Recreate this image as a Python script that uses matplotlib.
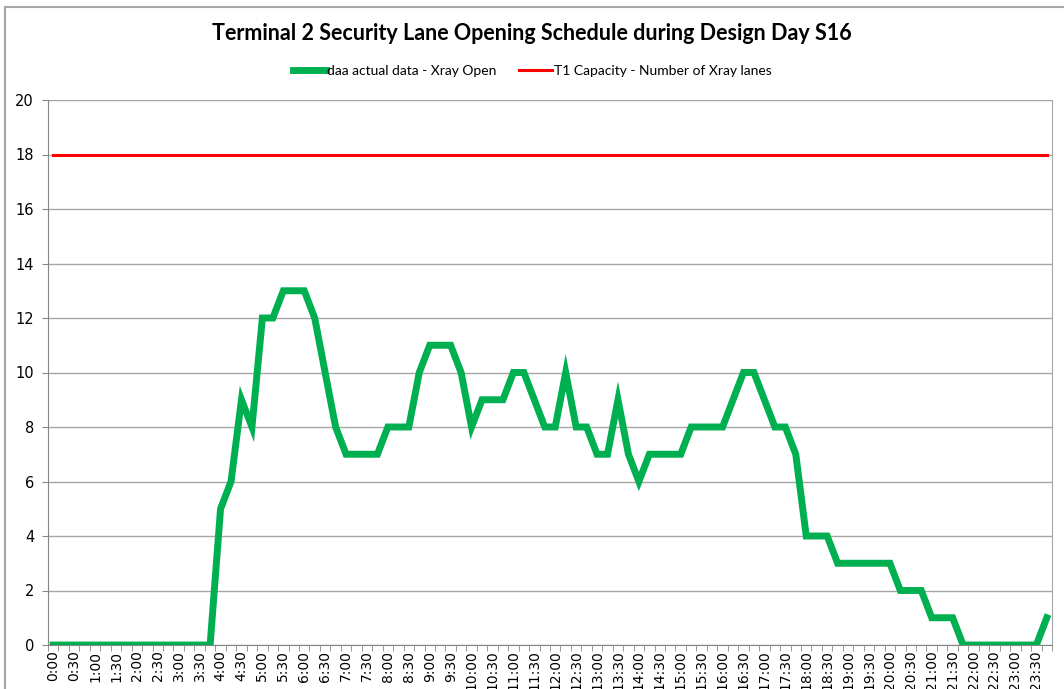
import matplotlib
matplotlib.use('Agg')
import matplotlib.pyplot as plt
from matplotlib.patches import Rectangle

plt.rcParams['font.family'] = ['Lato', 'DejaVu Sans']

# 15 minute slots over the design day
times = [f'{h}:{m:02d}' for h in range(24) for m in (0, 15, 30, 45)]

xray_open = [0, 0, 0, 0, 0, 0, 0, 0, 0, 0, 0, 0, 0, 0, 0, 0,
             5, 6, 9, 8, 12, 12, 13, 13, 13, 12, 10, 8, 7, 7, 7, 7,
             8, 8, 8, 10, 11, 11, 11, 10, 8, 9, 9, 9, 10, 10, 9, 8,
             8, 10, 8, 8, 7, 7, 9, 7, 6, 7, 7, 7, 7, 8, 8, 8,
             8, 9, 10, 10, 9, 8, 8, 7, 4, 4, 4, 3, 3, 3, 3, 3,
             3, 2, 2, 2, 1, 1, 1, 0, 0, 0, 0, 0, 0, 0, 0, 1]
capacity = [18] * len(times)

series_names = ['daa actual data - Xray Open', 'T1 Capacity - Number of Xray lanes']
title = 'Terminal 2 Security Lane Opening Schedule during Design Day S16'

fig = plt.figure(figsize=(10.64, 6.89), dpi=100)
ax = fig.add_axes([48 / 1064, 1 - 645 / 689, 1004 / 1064, 545 / 689])

x = list(range(len(times)))
ax.plot(x, xray_open, color='#00B050', lw=5, solid_joinstyle='miter', label=series_names[0], zorder=3)
ax.plot(x, capacity, color='#FF0000', lw=2.2, label=series_names[1], zorder=3)

ax.set_xlim(-0.5, len(times) - 0.5)
ax.set_ylim(0, 20)
ax.set_yticks(range(0, 21, 2))
ax.grid(axis='y', color='#A6A6A6', lw=1)
ax.set_axisbelow(True)

ax.set_xticks(x[::2])
ax.set_xticklabels(times[::2], rotation=90, fontsize=10, family='DejaVu Sans')
ax.tick_params(axis='x', length=0, pad=4)
ax.set_xticks([i - 0.5 for i in range(len(times) + 1)], minor=True)
ax.tick_params(axis='x', which='minor', length=4, color='#868686')
ax.tick_params(axis='y', labelsize=10.5, length=4, color='#868686', pad=6)
for lab in ax.get_yticklabels():
    lab.set_family('DejaVu Sans')

ax.spines['top'].set_visible(False)
for side in ('left', 'bottom'):
    ax.spines[side].set_color('#868686')
ax.spines['right'].set_color('#A6A6A6')

fig.text(0.5, 1 - 34 / 689, title, ha='center', va='center', fontsize=15.5, fontweight='bold')
fig.legend(loc='center', bbox_to_anchor=(0.5, 1 - 71 / 689), ncol=2, frameon=False,
           fontsize=10, handlelength=2.4, columnspacing=1.6, handletextpad=0.1)

fig.patches.append(Rectangle((5 / 1064, -0.1), 1.2, 1.1 - 7 / 689,
                             transform=fig.transFigure, fill=False, ec='#A6A6A6', lw=1.5))

fig.savefig('out.png', dpi=100)
